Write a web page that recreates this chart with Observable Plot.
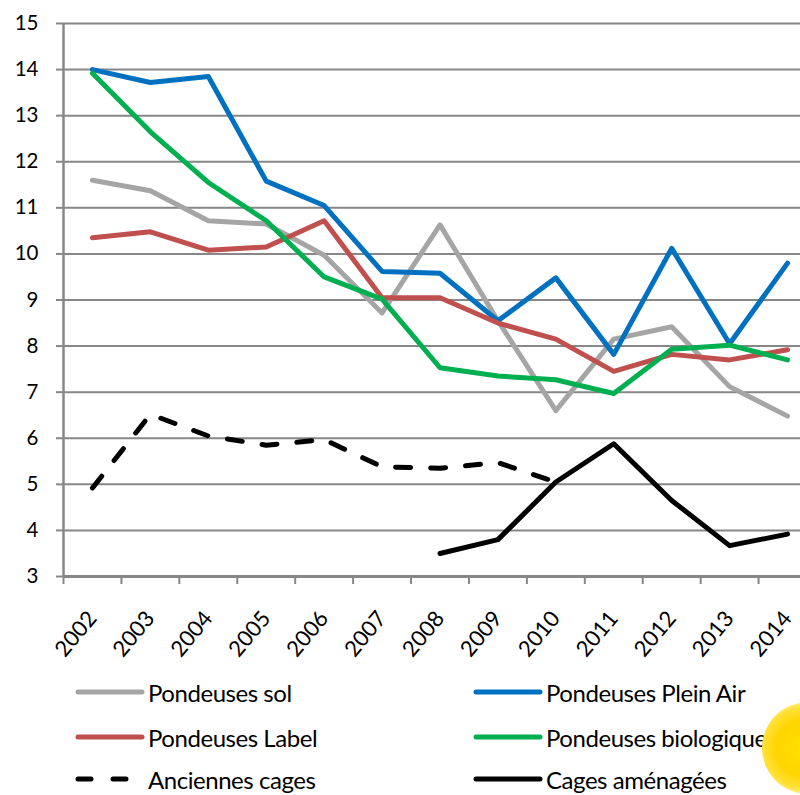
<!DOCTYPE html>
<html>
<head>
<meta charset="utf-8">
<script src="https://cdn.jsdelivr.net/npm/d3@7"></script>
<script src="https://cdn.jsdelivr.net/npm/@observablehq/plot@0.6"></script>
<style>
  html, body { margin: 0; padding: 0; background: #fff; width: 800px; height: 795px; overflow: hidden; }
  #wrap { position: relative; width: 800px; height: 795px; overflow: hidden; font-family: Lato, "Open Sans", sans-serif; }
  #chart svg { display: block; overflow: hidden; }
  #legend { position: absolute; left: 0; top: 665px; width: 800px; }
  .item { position: absolute; display: flex; align-items: center; height: 30px; font-size: 24px; letter-spacing: -0.45px; color: #000; white-space: nowrap; }
  .item svg { display: block; margin-right: 3px; }
  #glow { position: absolute; left: 762px; top: 702px; width: 92px; height: 92px; border-radius: 50%;
    background: radial-gradient(circle at 45% 50%, #ffe000 0%, #ffd500 40%, #ffe23a 60%, rgba(255,240,140,0.55) 70%, rgba(255,255,255,0) 78%); }
</style>
</head>
<body>
<div id="wrap">
  <div id="chart"></div>
  <div id="legend"></div>
  <div id="glow"></div>
</div>
<script>
const years = [2002, 2003, 2004, 2005, 2006, 2007, 2008, 2009, 2010, 2011, 2012, 2013, 2014];
const yTicks = [3, 4, 5, 6, 7, 8, 9, 10, 11, 12, 13, 14, 15];

const sol        = [11.6, 11.37, 10.72, 10.65, 9.97, 8.72, 10.63, 8.55, 6.6, 8.15, 8.42, 7.12, 6.48];
const pleinAir   = [14.0, 13.72, 13.85, 11.58, 11.05, 9.62, 9.58, 8.55, 9.48, 7.82, 10.12, 8.05, 9.8];
const label      = [10.35, 10.48, 10.08, 10.15, 10.72, 9.05, 9.05, 8.5, 8.15, 7.45, 7.82, 7.7, 7.92];
const biologique = [13.92, 12.65, 11.55, 10.72, 9.5, 9.02, 7.53, 7.35, 7.27, 6.97, 7.93, 8.02, 7.7];
const anciennes  = [4.92, 6.52, 6.05, 5.85, 5.97, 5.38, 5.35, 5.47, 5.05, null, null, null, null];
const amenagees  = [null, null, null, null, null, null, 3.5, 3.8, 5.05, 5.88, 4.65, 3.67, 3.92];

const seriesNames  = ["Pondeuses sol", "Pondeuses Plein Air", "Pondeuses Label", "Pondeuses biologique", "Anciennes cages", "Cages aménagées"];
const seriesValues = [sol, pleinAir, label, biologique, anciennes, amenagees];
const seriesColors = ["#A5A5A5", "#0070C0", "#C0504D", "#00B050", "#000000", "#000000"];
const seriesDash   = [null, null, null, null, "15,20", null];

const gridColor = "#878787";
const boundaries = years.map(y => y - 0.5).concat([years[years.length - 1] + 0.5]);

const lineMarks = seriesValues.map((vals, i) => {
  const rows = years.map((yr, j) => ({year: yr, value: vals[j]})).filter(d => d.value != null);
  return Plot.line(rows, {
    x: "year", y: "value",
    stroke: seriesColors[i], strokeWidth: 5,
    strokeLinecap: "round", strokeLinejoin: "round",
    strokeDasharray: seriesDash[i] || undefined
  });
});

const chart = Plot.plot({
  width: 800,
  height: 665,
  marginLeft: 63,
  marginRight: 0,
  marginTop: 23,
  marginBottom: 89,
  style: {fontFamily: "Lato, 'Open Sans', sans-serif", background: "#fff", color: "#000"},
  x: {type: "linear", domain: [boundaries[0], boundaries[boundaries.length - 1]], range: [63, 816], axis: null},
  y: {domain: [3, 15], axis: null},
  marks: [
    Plot.ruleY(yTicks.filter(t => t > 3), {stroke: gridColor, strokeWidth: 2}),
    Plot.axisY({ticks: yTicks, tickSize: 7, tickPadding: 18, stroke: gridColor, strokeWidth: 2, strokeOpacity: 1, fill: "#000", fontSize: 20.5, label: null}),
    Plot.axisX({ticks: boundaries, tickSize: 8, tickFormat: () => "", stroke: gridColor, strokeWidth: 2, strokeOpacity: 1, label: null}),
    Plot.axisX({ticks: years, tickSize: 0, tickPadding: 38, tickRotate: -50, tickFormat: d => String(d), fill: "#000", fontSize: 22, label: null}),
    Plot.ruleX([boundaries[0]], {stroke: gridColor, strokeWidth: 2.5}),
    Plot.ruleY([3], {stroke: gridColor, strokeWidth: 3}),
    ...lineMarks
  ]
});
document.getElementById("chart").appendChild(chart);

// Legend (HTML, below the SVG)
const legend = document.getElementById("legend");
const colLeft = [75, 473];
const rowTop = [12, 57, 99];
seriesNames.forEach((name, i) => {
  const col = i % 2, row = Math.floor(i / 2);
  const item = document.createElement("div");
  item.className = "item";
  item.style.left = colLeft[col] + "px";
  item.style.top = rowTop[row] + "px";
  const dash = seriesDash[i] ? ` stroke-dasharray="13,22"` : "";
  item.innerHTML = `<svg width="70" height="10"><line x1="3" y1="5" x2="67" y2="5" stroke="${seriesColors[i]}" stroke-width="5" stroke-linecap="round"${dash}/></svg><span></span>`;
  item.querySelector("span").textContent = name;
  legend.appendChild(item);
});
</script>
</body>
</html>
